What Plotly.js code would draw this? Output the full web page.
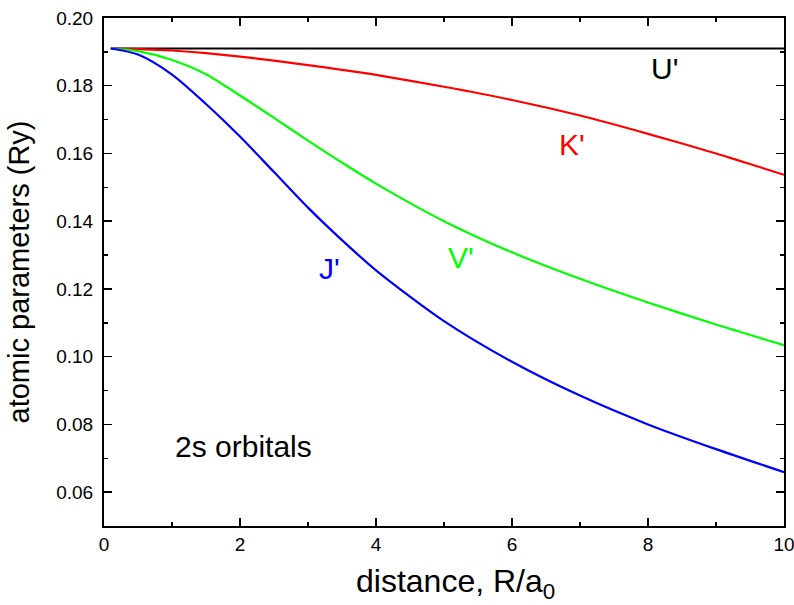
<!DOCTYPE html>
<html>
<head>
<meta charset="utf-8">
<script src="https://cdn.plot.ly/plotly-3.0.1.min.js"></script>
<style>html,body{margin:0;padding:0;background:#fff;}#chart{width:794px;height:605px;}</style>
</head>
<body>
<div id="chart"></div>
<script>
const distance = [0.1, 0.5, 1, 1.5, 2, 2.5, 3, 3.5, 4, 5, 6, 7, 8, 9, 10];
const U_prime = [0.191, 0.191, 0.191, 0.191, 0.191, 0.191, 0.191, 0.191, 0.191, 0.191, 0.191, 0.191, 0.191, 0.191, 0.191];
const K_prime = [0.1910, 0.1908, 0.1904, 0.1896, 0.1886, 0.1874, 0.1861, 0.1847, 0.1832, 0.1797, 0.1758, 0.1712, 0.1658, 0.1600, 0.1537];
const V_prime = [0.1910, 0.1902, 0.1876, 0.1834, 0.1771, 0.1705, 0.1638, 0.1573, 0.1511, 0.1400, 0.1308, 0.1230, 0.1160, 0.1095, 0.1034];
const J_prime = [0.1910, 0.1892, 0.1833, 0.1746, 0.1650, 0.1545, 0.1440, 0.1344, 0.1255, 0.1105, 0.0985, 0.0885, 0.0800, 0.0727, 0.0659];
const xTickVals = [0, 2, 4, 6, 8, 10];
const xTickText = ['0', '2', '4', '6', '8', '10'];

const seriesNames = ["U'", "K'", "V'", "J'"];
const seriesColors = ["#000000", "#ff0000", "#00ff00", "#0000ff"];
const seriesValues = [U_prime, K_prime, V_prime, J_prime];
const labelX = [8.24, 6.88, 5.25, 3.31];
const labelY = [0.1850, 0.1626, 0.1294, 0.1260];

const FONT = "Liberation Sans, Arial, Helvetica, sans-serif";

const traces = seriesValues.map((vals, i) => ({
  x: distance, y: vals, type: 'scatter', mode: 'lines', name: seriesNames[i],
  line: {color: seriesColors[i], width: 2.2, shape: 'spline', smoothing: 0.8},
  hoverinfo: 'skip'
}));

const annotations = seriesNames.map((n, i) => ({
  x: labelX[i], y: labelY[i], xref: 'x', yref: 'y', text: n, showarrow: false,
  font: {family: FONT, size: 30, color: seriesColors[i]}
}));
annotations.push({
  x: 2.05, y: 0.0735, xref: 'x', yref: 'y', text: '2s orbitals', showarrow: false,
  font: {family: FONT, size: 30, color: '#000'}
});
// x-axis title placed as paper annotation to match reference position
annotations.push({
  x: 0.5176, y: 0, xref: 'paper', yref: 'paper', xanchor: 'center', yanchor: 'top', yshift: -35,
  text: 'distance, R/a<sub>0</sub>', showarrow: false,
  font: {family: FONT, size: 32, color: '#000'}
});

const layout = {
  width: 794, height: 605,
  margin: {l: 104, r: 10, t: 18, b: 79},
  paper_bgcolor: '#fff', plot_bgcolor: '#fff',
  showlegend: false,
  font: {family: FONT, color: '#000'},
  xaxis: {
    range: [0, 10], tickmode: 'array', tickvals: xTickVals, ticktext: xTickText,
    ticks: 'inside', ticklen: 8, tickwidth: 1.5, tickcolor: '#000',
    minor: {tickvals: [1, 3, 5, 7, 9], ticks: 'inside', ticklen: 4, tickwidth: 1.5, tickcolor: '#000', showgrid: false},
    showline: true, linewidth: 2, linecolor: '#000', mirror: 'allticks',
    showgrid: false, zeroline: false,
    ticklabeloverflow: 'allow',
    tickfont: {family: FONT, size: 19, color: '#000'}
  },
  yaxis: {
    range: [0.05, 0.20], dtick: 0.02, tick0: 0.06, tickformat: '.2f',
    ticks: 'inside', ticklen: 8, tickwidth: 1.5, tickcolor: '#000',
    minor: {dtick: 0.01, ticks: 'inside', ticklen: 4, tickwidth: 1.5, tickcolor: '#000', showgrid: false},
    showline: true, linewidth: 2, linecolor: '#000', mirror: 'allticks',
    showgrid: false, zeroline: false,
    tickfont: {family: FONT, size: 19, color: '#000'},
    ticklabelstandoff: 5,
    title: {text: 'atomic parameters (Ry)', font: {family: FONT, size: 29, color: '#000'}, standoff: 18}
  },
  annotations: annotations
};

Plotly.newPlot('chart', traces, layout, {staticPlot: true, displayModeBar: false});
</script>
</body>
</html>
